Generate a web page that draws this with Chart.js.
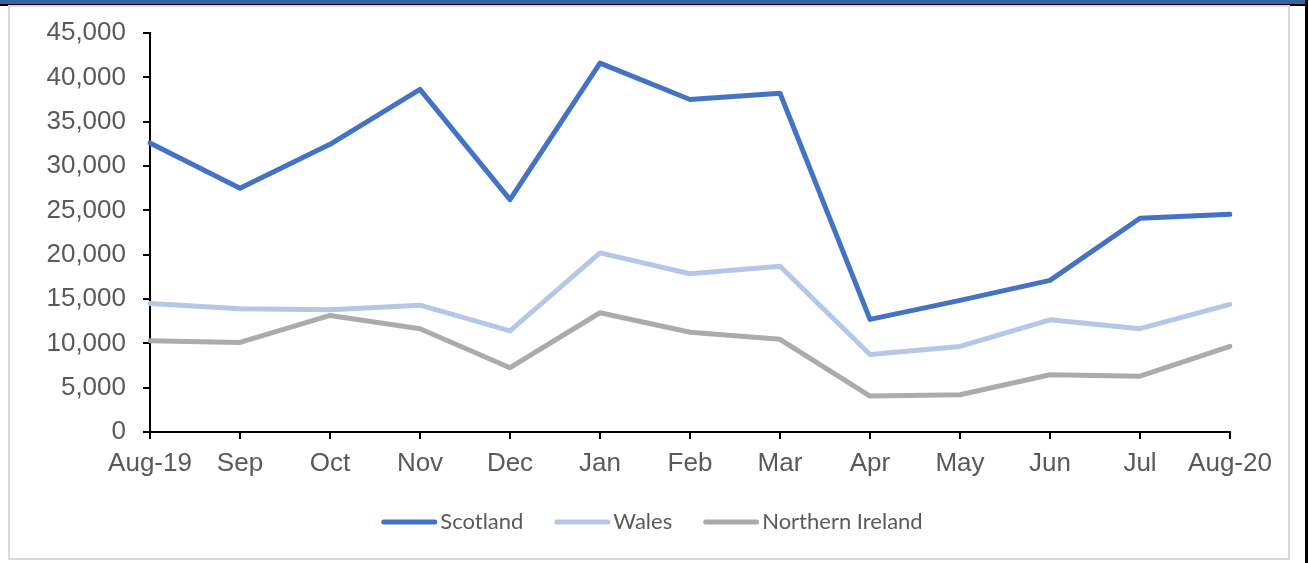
<!DOCTYPE html>
<html>
<head>
<meta charset="utf-8">
<script src="https://cdn.jsdelivr.net/npm/chart.js@4"></script>
<style>
  body { margin: 0; background: #fff; }
  #wrap { position: relative; width: 1309px; height: 563px; overflow: hidden; }
  .topbar { position: absolute; left: 0; top: 0; width: 1305px; height: 4px; background: #34659c; }
  .topline { position: absolute; left: 0; top: 4px; width: 1308px; height: 2px; background: #000; }
  .rightline { position: absolute; left: 1305px; top: 0; width: 3px; height: 563px; background: #000; }
  .frame { position: absolute; left: 8px; top: 5px; width: 1278px; height: 551px; border: 2px solid #d9d9d9; background: #fff; }
  #trendChart { position: absolute; left: 0; top: 0; }
</style>
</head>
<body>
<div id="wrap">
  <div class="topbar"></div>
  <div class="topline"></div>
  <div class="rightline"></div>
  <div class="frame"></div>
  <canvas id="trendChart" width="1309" height="563"></canvas>
</div>
<script>
const months = ['Aug-19', 'Sep', 'Oct', 'Nov', 'Dec', 'Jan', 'Feb', 'Mar', 'Apr', 'May', 'Jun', 'Jul', 'Aug-20'];
const scotland = [32600, 27500, 32450, 38650, 26200, 41600, 37500, 38200, 12700, 14850, 17100, 24100, 24550];
const wales = [14500, 13900, 13800, 14300, 11400, 20200, 17850, 18700, 8750, 9650, 12650, 11650, 14400];
const northernIreland = [10300, 10100, 13150, 11650, 7250, 13450, 11250, 10450, 4050, 4200, 6450, 6300, 9650];
const yTicks = [0, 5000, 10000, 15000, 20000, 25000, 30000, 35000, 40000, 45000];

const tickFont = { family: '"Liberation Sans", Arial, sans-serif', size: 26 };

function series(label, data, color) {
  return {
    label: label,
    data: data,
    borderColor: color,
    backgroundColor: color,
    borderWidth: 5,
    borderCapStyle: 'round',
    borderJoinStyle: 'round',
    pointRadius: 0,
    tension: 0,
    fill: false
  };
}

// legend row under the axis: short thick line, then the name right next to it
const bottomLegend = {
  id: 'bottomLegend',
  afterDraw(chart) {
    const c = chart.ctx;
    const lineLen = 56, textGap = 3, itemGap = 31, y = 522;
    c.save();
    c.font = '22px Lato, "Open Sans", sans-serif';
    const items = chart.data.datasets.map(ds => ({ ds, w: lineLen + textGap + c.measureText(ds.label).width }));
    const total = items.reduce((a, it) => a + it.w, 0) + itemGap * (items.length - 1);
    let x = 652 - total / 2;
    items.forEach(it => {
      c.strokeStyle = it.ds.borderColor;
      c.lineWidth = 5;
      c.lineCap = 'round';
      c.beginPath();
      c.moveTo(x + 2.5, y);
      c.lineTo(x + lineLen - 2.5, y);
      c.stroke();
      c.fillStyle = '#595959';
      c.textBaseline = 'middle';
      c.fillText(it.ds.label, x + lineLen + textGap, y);
      x += it.w + itemGap;
    });
    c.restore();
  }
};

const ctx = document.getElementById('trendChart').getContext('2d');
new Chart(ctx, {
  type: 'line',
  data: {
    labels: months,
    datasets: [
      series('Scotland', scotland, '#4472c4'),
      series('Wales', wales, '#b4c7e7'),
      series('Northern Ireland', northernIreland, '#aeaaaa')
    ]
  },
  options: {
    responsive: false,
    animation: false,
    layout: { padding: { left: 0, right: 79, top: 33, bottom: 77 } },
    plugins: {
      tooltip: { enabled: false },
      legend: { display: false }
    },
    scales: {
      x: {
        offset: false,
        afterFit: s => { s.height = 54; },
        border: { display: true, color: '#000', width: 2 },
        grid: { drawOnChartArea: false, drawTicks: true, tickLength: 7, color: '#000', lineWidth: 2 },
        ticks: { color: '#595959', font: tickFont, padding: 9, maxRotation: 0, autoSkip: false }
      },
      y: {
        min: 0,
        max: 45000,
        afterFit: s => { s.width = 150; },
        afterBuildTicks: s => { s.ticks = yTicks.map(v => ({ value: v })); },
        border: { display: true, color: '#000', width: 2 },
        grid: { drawOnChartArea: false, drawTicks: true, tickLength: 7, color: '#000', lineWidth: 2 },
        ticks: {
          color: '#595959',
          font: tickFont,
          padding: 17,
          callback: v => v.toLocaleString('en-US')
        }
      }
    }
  },
  plugins: [bottomLegend]
});
</script>
</body>
</html>
